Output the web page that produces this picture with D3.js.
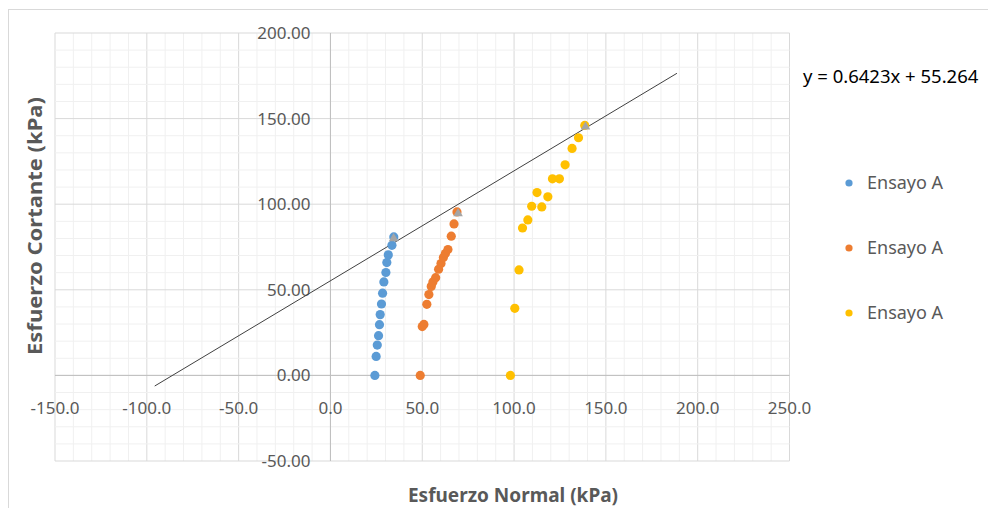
<!DOCTYPE html>
<html><head><meta charset="utf-8">
<script src="https://cdn.jsdelivr.net/npm/d3@7/dist/d3.min.js"></script>
<style>body{margin:0;background:#fff;} text{font-family:"Noto Sans",sans-serif;}</style>
</head><body>
<svg id="c" width="988" height="508"></svg>
<script>
const xTicks = [-150, -100, -50, 0, 50, 100, 150, 200, 250];
const yTicks = [-50, 0, 50, 100, 150, 200];
const blueX = [24.2, 24.9, 25.5, 26.2, 26.7, 27.1, 27.8, 28.4, 29.1, 30.2, 30.7, 31.5, 33.5, 34.5];
const blueY = [0, 11.1, 17.7, 23.2, 29.6, 35.5, 41.7, 48.0, 54.6, 60.1, 65.9, 70.4, 76.0, 80.9];
const orangeX = [48.9, 50.0, 50.9, 52.5, 53.6, 54.9, 55.8, 57.3, 58.9, 60.2, 61.5, 62.6, 64.0, 65.8, 67.3, 68.9];
const orangeY = [0, 28.5, 29.8, 41.5, 47.2, 52.0, 54.6, 57.1, 62.0, 65.3, 68.8, 71.2, 73.5, 81.3, 88.5, 95.5];
const yellowX = [98.0, 100.4, 102.7, 104.6, 107.5, 109.6, 112.5, 115.1, 118.4, 120.9, 124.7, 127.8, 131.6, 135.1, 138.5];
const yellowY = [0, 39.2, 61.6, 86.1, 90.8, 98.8, 106.8, 98.4, 104.3, 114.8, 114.8, 123.0, 132.6, 138.8, 146.0];
const peakX = [34.4, 69.5, 138.9];
const peakY = [80.0, 94.6, 145.2];
const seriesNames = ["Ensayo A", "Ensayo A", "Ensayo A"];
const seriesColors = ["#5b9bd5", "#ed7d31", "#ffc000"];
const trendSlope = 0.6423, trendIntercept = 55.264;
const trendX = [-95.7, 188.7];
const equationLabel = "y = 0.6423x + 55.264";

const svg = d3.select("#c");
const x = d3.scaleLinear().domain([-150, 250]).range([55, 789.5]);
const y = d3.scaleLinear().domain([-50, 200]).range([461, 33]);
const hy = s => s.replace("\u2212", "-");

// chart border
svg.append("rect").attr("x", 8.5).attr("y", 9.5).attr("width", 1000).attr("height", 520)
  .attr("fill", "none").attr("stroke", "#d9d9d9");

// grid
const g = svg.append("g");
d3.range(-150, 251, 10).forEach(v => {
  g.append("line").attr("x1", x(v)).attr("x2", x(v)).attr("y1", y(-50)).attr("y2", y(200))
    .attr("stroke", v % 50 === 0 ? "#d9d9d9" : "#f0f0f0").attr("stroke-width", 1);
});
d3.range(-50, 201, 10).forEach(v => {
  g.append("line").attr("y1", y(v)).attr("y2", y(v)).attr("x1", x(-150)).attr("x2", x(250))
    .attr("stroke", v % 50 === 0 ? "#d9d9d9" : "#f0f0f0").attr("stroke-width", 1);
});
// axes lines
g.append("line").attr("x1", x(-150)).attr("x2", x(250)).attr("y1", y(0)).attr("y2", y(0)).attr("stroke", "#bfbfbf");
g.append("line").attr("x1", x(0)).attr("x2", x(0)).attr("y1", y(-50)).attr("y2", y(200)).attr("stroke", "#bfbfbf");

// tick labels
svg.append("g").selectAll("text").data(yTicks).join("text")
  .attr("x", x(0) - 20).attr("y", d => y(d)).attr("dy", "0.35em")
  .attr("text-anchor", "end").attr("font-size", 17).attr("fill", "#595959")
  .text(d => hy(d3.format(".2f")(d)));
svg.append("g").selectAll("text").data(xTicks).join("text")
  .attr("x", d => x(d)).attr("y", y(0) + 33).attr("dy", "0.35em")
  .attr("text-anchor", "middle").attr("font-size", 17).attr("fill", "#595959")
  .text(d => hy(d3.format(".1f")(d)));

// axis titles
svg.append("text").attr("transform", "translate(42,226) rotate(-90)")
  .attr("text-anchor", "middle").attr("font-size", 19).attr("font-weight", "bold").attr("fill", "#595959")
  .attr("textLength", 258).attr("lengthAdjust", "spacingAndGlyphs")
  .text("Esfuerzo Cortante (kPa)");
svg.append("text").attr("x", 513).attr("y", 495).attr("dy", "0.35em")
  .attr("text-anchor", "middle").attr("font-size", 19).attr("font-weight", "bold").attr("fill", "#595959")
  .text("Esfuerzo Normal (kPa)");

// trendline
svg.append("line").attr("x1", x(trendX[0])).attr("y1", y(trendSlope * trendX[0] + trendIntercept))
  .attr("x2", x(trendX[1])).attr("y2", y(trendSlope * trendX[1] + trendIntercept))
  .attr("stroke", "#404040").attr("stroke-width", 1);

// series
const series = [[blueX, blueY], [orangeX, orangeY], [yellowX, yellowY]];
series.forEach((s, i) => {
  svg.append("g").selectAll("circle").data(s[0]).join("circle")
    .attr("cx", d => x(d)).attr("cy", (d, j) => y(s[1][j])).attr("r", 4.6)
    .attr("fill", seriesColors[i]);
});
// gray triangles
const tri = d3.symbol().type(d3.symbolTriangle).size(40);
svg.append("g").selectAll("path").data(peakX).join("path")
  .attr("d", tri).attr("transform", (d, j) => `translate(${x(d)},${y(peakY[j])})`)
  .attr("fill", "#a5a5a5");

// equation
svg.append("text").attr("x", 803).attr("y", 77).attr("dy", "0.35em")
  .attr("font-size", 18.5).attr("fill", "#000").text(equationLabel);

// legend
const leg = svg.append("g");
seriesNames.forEach((n, i) => {
  const ly = 183 + i * 65;
  leg.append("circle").attr("cx", 849).attr("cy", ly).attr("r", 3.6).attr("fill", seriesColors[i]);
  leg.append("text").attr("x", 867).attr("y", ly).attr("dy", "0.35em")
    .attr("font-size", 18).attr("fill", "#595959").text(n);
});
</script>
</body></html>
